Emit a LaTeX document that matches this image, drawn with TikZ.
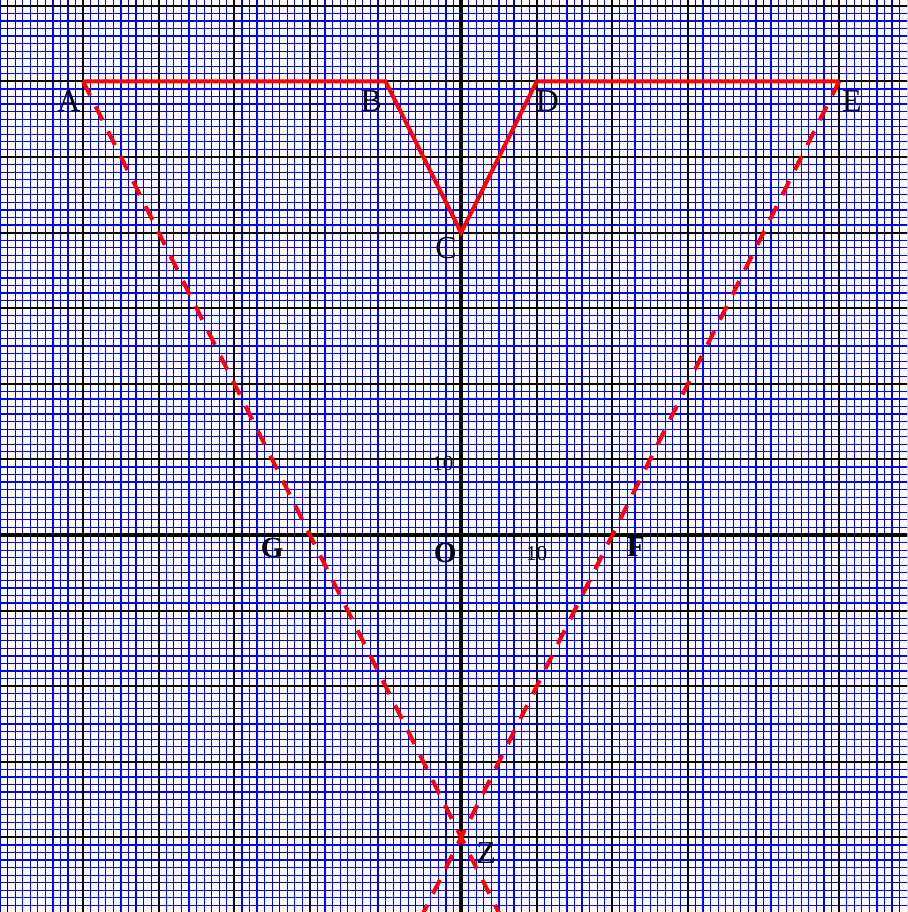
\documentclass[tikz,border=0pt]{standalone}
\usepackage{fontspec}
\setmainfont{Liberation Serif}
\usetikzlibrary{calc}

\begin{document}
\begin{tikzpicture}[x=1mm,y=1mm,
    fine/.style={blue, line width=0.45pt},
    major/.style={black, line width=0.7pt},
    axis/.style={black, line width=1.7pt},
    outline/.style={red, line width=1.5pt},
    ray/.style={red, line width=1.5pt, dash pattern=on 5.8pt off 4.7pt},
    lbl/.style={font=\fontsize{12}{14}\selectfont, inner sep=0pt},
    blbl/.style={font=\fontsize{11}{13}\selectfont\bfseries, inner sep=0pt},
    num/.style={font=\fontsize{8}{10}\selectfont, inner sep=0pt}]
    \useasboundingbox (-61,-49.87) rectangle (59,70.77);
    \clip (-61,-49.87) rectangle (59,70.77);

    % Fine grid (one unit)
    \foreach \i in {-61,...,59} {
        \draw[fine] (\i,-51) -- (\i,72);
    }
    \foreach \j in {-50,...,71} {
        \draw[fine] (-62,\j) -- (60,\j);
    }

    % Major grid (ten units)
    \foreach \i in {-60,-50,...,50} {
        \draw[major] (\i,-51) -- (\i,72);
    }
    \foreach \j in {-50,-40,...,70} {
        \draw[major] (-62,\j) -- (60,\j);
    }

    % Axes
    \draw[axis] (-62,0) -- (60,0);
    \draw[axis] (0,-51) -- (0,72);

    % Points
    \coordinate (A) at (-50,60);
    \coordinate (B) at (-10,60);
    \coordinate (C) at (0,40);
    \coordinate (D) at (10,60);
    \coordinate (E) at (50,60);
    \coordinate (Z) at (0,-40);
    \coordinate (Aend) at ($(A)!1.1!(Z)$);
    \coordinate (Eend) at ($(E)!1.1!(Z)$);

    % Dashed rays through G and F
    \draw[ray] (A) -- (Aend);
    \draw[ray] (E) -- (Eend);

    % Outline
    \draw[outline] (A) -- (B) -- (C) -- (D) -- (E);

    % Labels
    \node[lbl] (lA) at (-51.9,57.4) {A};
    \node[lbl] (lB) at (-11.9,57.4) {B};
    \node[lbl] (lC) at (-2.0,38.0) {C};
    \node[lbl] (lD) at (11.4,57.4) {D};
    \node[lbl] (lE) at (51.7,57.4) {E};
    \node[lbl] (lZ) at (3.3,-42.1) {Z};
    \node[blbl] (lF) at (23.1,-1.6) {F};
    \node[blbl] (lG) at (-25.0,-1.7) {G};
    \node[blbl] (lO) at (-2.1,-2.4) {O};
    \node[num] (ny) at (-2.4,9.4) {10};
    \node[num] (nx) at (10,-2.4) {10};
\end{tikzpicture}
\end{document}
